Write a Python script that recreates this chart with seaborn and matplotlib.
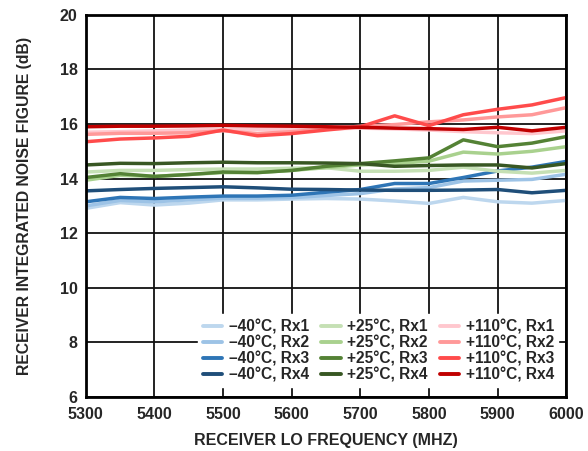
import matplotlib
matplotlib.use("Agg")
import matplotlib.pyplot as plt
import seaborn as sns
import pandas as pd

freq = [5300, 5350, 5400, 5450, 5500, 5550, 5600, 5650, 5700, 5750, 5800, 5850, 5900, 5950, 6000]

m40_rx1 = [12.91, 13.12, 13.03, 13.10, 13.22, 13.22, 13.25, 13.27, 13.25, 13.18, 13.09, 13.31, 13.15, 13.10, 13.20]
m40_rx2 = [13.00, 13.20, 13.15, 13.22, 13.28, 13.28, 13.30, 13.38, 13.45, 13.62, 13.67, 13.91, 13.94, 13.97, 14.16]
m40_rx3 = [13.15, 13.31, 13.27, 13.32, 13.36, 13.36, 13.39, 13.50, 13.60, 13.82, 13.82, 14.04, 14.28, 14.42, 14.63]
m40_rx4 = [13.55, 13.60, 13.64, 13.67, 13.70, 13.66, 13.61, 13.60, 13.58, 13.57, 13.57, 13.58, 13.60, 13.48, 13.57]

p25_rx1 = [14.24, 14.30, 14.30, 14.33, 14.35, 14.35, 14.38, 14.40, 14.27, 14.27, 14.30, 14.42, 14.27, 14.20, 14.30]
p25_rx2 = [13.94, 14.12, 14.08, 14.15, 14.22, 14.22, 14.30, 14.40, 14.50, 14.55, 14.64, 14.97, 14.90, 15.00, 15.17]
p25_rx3 = [14.04, 14.18, 14.08, 14.15, 14.24, 14.22, 14.30, 14.45, 14.55, 14.65, 14.76, 15.42, 15.17, 15.30, 15.54]
p25_rx4 = [14.50, 14.56, 14.55, 14.58, 14.60, 14.58, 14.58, 14.57, 14.55, 14.45, 14.48, 14.50, 14.50, 14.39, 14.55]

p110_rx1 = [15.70, 15.72, 15.75, 15.78, 15.80, 15.80, 15.80, 15.82, 15.85, 15.82, 15.78, 15.72, 15.68, 15.65, 15.75]
p110_rx2 = [15.62, 15.66, 15.66, 15.68, 15.75, 15.65, 15.72, 15.82, 15.92, 15.98, 16.08, 16.15, 16.26, 16.34, 16.60]
p110_rx3 = [15.35, 15.45, 15.49, 15.55, 15.78, 15.57, 15.65, 15.78, 15.90, 16.30, 15.94, 16.34, 16.54, 16.70, 16.97]
p110_rx4 = [15.90, 15.92, 15.92, 15.93, 15.95, 15.93, 15.92, 15.90, 15.88, 15.85, 15.83, 15.80, 15.88, 15.75, 15.88]

labels = ["\u201340°C, Rx1", "\u201340°C, Rx2", "\u201340°C, Rx3", "\u201340°C, Rx4",
          "+25°C, Rx1", "+25°C, Rx2", "+25°C, Rx3", "+25°C, Rx4",
          "+110°C, Rx1", "+110°C, Rx2", "+110°C, Rx3", "+110°C, Rx4"]
series = [m40_rx1, m40_rx2, m40_rx3, m40_rx4,
          p25_rx1, p25_rx2, p25_rx3, p25_rx4,
          p110_rx1, p110_rx2, p110_rx3, p110_rx4]
colors = ["#BDD7EE", "#9DC3E6", "#2E75B6", "#1F4E79",
          "#C5E0B4", "#A9D18E", "#548235", "#385723",
          "#FFC7CE", "#FF9999", "#FF4B4B", "#C00000"]

x_ticks = [5300, 5400, 5500, 5600, 5700, 5800, 5900, 6000]
y_ticks = [6, 8, 10, 12, 14, 16, 18, 20]

rows = []
for lab, vals in zip(labels, series):
    for f, v in zip(freq, vals):
        rows.append({"freq": f, "nf": v, "series": lab})
df = pd.DataFrame(rows)

sns.set_style("white")
plt.rcParams["font.family"] = ["Liberation Sans", "DejaVu Sans"]
plt.rcParams["font.weight"] = "bold"

fig = plt.figure(figsize=(5.88, 4.51), dpi=100)
ax = fig.add_axes([0.146, 0.120, 0.817, 0.847])

sns.lineplot(data=df, x="freq", y="nf", hue="series", hue_order=labels,
             palette=dict(zip(labels, colors)), linewidth=2.5, ax=ax,
             legend=True)

ax.set_xlim(5300, 6000)
ax.set_ylim(6, 20)
ax.set_xticks(x_ticks)
ax.set_yticks(y_ticks)
ax.grid(True, color="#111111", linewidth=1.3)
ax.set_axisbelow(True)
for s in ax.spines.values():
    s.set_color("black")
    s.set_linewidth(2)
ax.tick_params(axis="both", length=0, labelsize=11.5)
ax.tick_params(axis="y", pad=6)
ax.tick_params(axis="x", pad=7)
for t in ax.get_xticklabels() + ax.get_yticklabels():
    t.set_fontweight("bold")

ax.set_xlabel("RECEIVER LO FREQUENCY (MHZ)", fontsize=11.5, fontweight="bold", labelpad=8)
ax.set_ylabel("RECEIVER INTEGRATED NOISE FIGURE (dB)", fontsize=11.3, fontweight="bold", labelpad=20)

handles, labs = ax.get_legend_handles_labels()
leg = ax.legend(handles, labs, ncol=3, loc="lower right", bbox_to_anchor=(1.0, 0.006),
                frameon=True, fancybox=False, framealpha=1.0, edgecolor="white",
                prop={"weight": "bold", "size": 11.2}, handlelength=1.25,
                handletextpad=0.4, columnspacing=0.8, labelspacing=0.06,
                borderpad=0.3)
for h in leg.get_lines():
    h.set_linewidth(2.8)

fig.savefig("out.png", dpi=100)
